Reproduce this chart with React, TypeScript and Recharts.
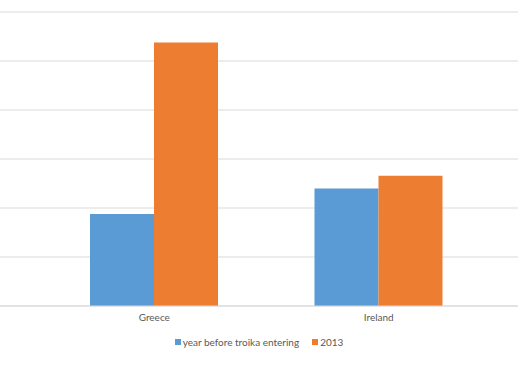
import { BarChart, Bar, XAxis, YAxis, CartesianGrid, Legend } from "recharts";

const countries = ["Greece", "Ireland"];
const beforeTroika = [9.4, 12.0];
const year2013 = [26.9, 13.3];
const yTicks = [0, 5, 10, 15, 20, 25, 30];

const seriesNames = ["year before troika entering", "2013"];
const seriesColors = ["#5B9BD5", "#ED7D31"];

const rows = countries.map((name, i) => ({
  name,
  before: beforeTroika[i],
  y2013: year2013[i],
}));

const FONT = "Lato, 'Open Sans', sans-serif";

function LegendRow() {
  return (
    <div
      style={{
        display: "flex",
        justifyContent: "center",
        alignItems: "center",
        marginTop: 3,
        fontFamily: FONT,
        fontSize: 10,
        color: "#595959",
        lineHeight: "10px",
      }}
    >
      {seriesNames.map((label, i) => (
        <div key={label} style={{ display: "flex", alignItems: "center", marginRight: i === 0 ? 13 : 0 }}>
          <span style={{ width: 6, height: 6, background: seriesColors[i], marginRight: 2, display: "inline-block" }} />
          <span>{label}</span>
        </div>
      ))}
    </div>
  );
}

export default function App() {
  return (
    <div style={{ width: 518, height: 369, background: "#fff" }}>
      <style>{`body{margin:0}`}</style>
      <BarChart
        width={518}
        height={369}
        data={rows}
        margin={{ top: 12, right: 0, bottom: 0, left: 0 }}
        barGap={0}
        barSize={64}
      >
        <CartesianGrid vertical={false} stroke="#d9d9d9" />
        <XAxis
          dataKey="name"
          padding={{ left: 42, right: 27 }}
          tickLine={false}
          axisLine={{ stroke: "#d9d9d9" }}
          tick={{ fill: "#595959", fontSize: 10, fontFamily: FONT }}
          height={28}
        />
        <YAxis hide domain={[0, 30]} ticks={yTicks} />
        <Legend verticalAlign="bottom" height={35} content={() => <LegendRow />} />
        <Bar dataKey="before" name={seriesNames[0]} fill={seriesColors[0]} isAnimationActive={false} />
        <Bar dataKey="y2013" name={seriesNames[1]} fill={seriesColors[1]} isAnimationActive={false} />
      </BarChart>
    </div>
  );
}
